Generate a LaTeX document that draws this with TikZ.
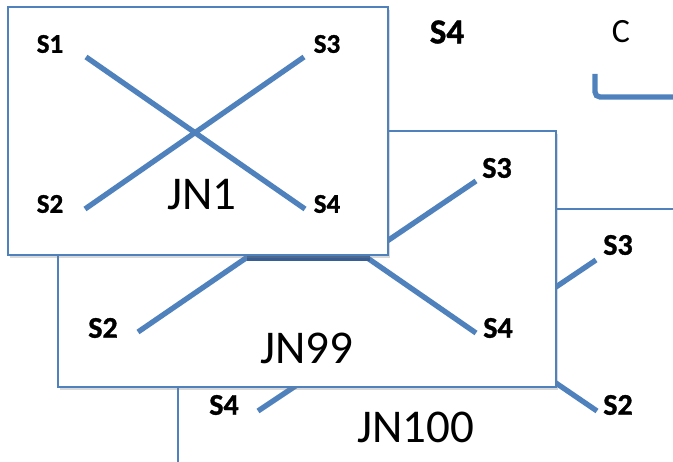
\documentclass[tikz,border=0pt]{standalone}
\usepackage{fontspec}
\setmainfont{Carlito}[BoldFont={Carlito Bold}, BoldFeatures={FakeBold=1.2}]
\usetikzlibrary{shadows}
\definecolor{officeblue}{RGB}{79,129,189}
\definecolor{bandblue}{RGB}{56,94,148}

\begin{document}
\begin{tikzpicture}[x=1pt,y=-1pt,
  panel/.style={draw=officeblue, line width=1.5pt, fill=white,
    drop shadow={shadow xshift=2pt, shadow yshift=-3pt, opacity=0.3}},
  wire/.style={officeblue, line width=5.3pt},
  portA/.style={font=\bfseries\fontsize{27}{30}\selectfont, inner sep=0pt},
  portB/.style={font=\bfseries\fontsize{30}{33}\selectfont, inner sep=0pt},
  portC/.style={font=\bfseries\fontsize{35}{38}\selectfont, inner sep=0pt},
  plain/.style={font=\fontsize{34}{37}\selectfont, inner sep=0pt},
  jname/.style={font=\fontsize{47}{50}\selectfont, inner sep=0pt}
]
\useasboundingbox (0,0) rectangle (673,462);
\clip (0,0) rectangle (673,462);

% rear layer, top right
\node[portC] (s4top) at (447,32) {S4};
\node[plain] (ctop) at (621,32) {C};
\coordinate (ca) at (595,74);
\coordinate (cb) at (595,97);
\coordinate (cc) at (680,97);
\draw[wire, rounded corners=5pt] (ca) -- (cb) -- (cc);

% JN100 (partly hidden)
\coordinate (h3a) at (550,291); \coordinate (h3b) at (596,260);
\coordinate (h2a) at (550,379); \coordinate (h2b) at (597,411);
\coordinate (h4a) at (258,411); \coordinate (h4b) at (300,383);
\path[panel] (178,209) rectangle (760,540);
\draw[wire] (h3a) -- (h3b);
\draw[wire] (h2a) -- (h2b);
\draw[wire] (h4a) -- (h4b);
\node[portB] (l100s3) at (618,245) {S3};
\node[portB] (l100s2) at (618,405) {S2};
\node[portB] (l100s4) at (224,405) {S4};
\node[jname] (jn100) at (416,427) {JN100};

% JN99
\coordinate (g2a) at (138,332); \coordinate (g2b) at (249,256);
\coordinate (g3a) at (476,181); \coordinate (g3b) at (365,256);
\coordinate (g4a) at (476,333); \coordinate (g4b) at (366,257);
\coordinate (gba) at (247,258); \coordinate (gbb) at (370,258);
\path[panel] (58,131) rectangle (556,387);
\draw[wire] (g2a) -- (g2b);
\draw[wire] (g3a) -- (g3b);
\draw[wire] (g4a) -- (g4b);
\draw[bandblue, line width=6pt] (gba) -- (gbb);
\node[portB] (l99s2) at (103,328) {S2};
\node[portB] (l99s3) at (497,168) {S3};
\node[portB] (l99s4) at (498,328) {S4};
\node[jname] (jn99) at (307,348) {JN99};

% JN1 (front)
\coordinate (f1a) at (86,57); \coordinate (f1b) at (305,209);
\coordinate (f3a) at (304,57); \coordinate (f3b) at (85,209);
\path[panel] (8,7) rectangle (388,255);
\draw[wire] (f1a) -- (f1b);
\draw[wire] (f3a) -- (f3b);
\node[portA] (l1s1) at (50,44) {S1};
\node[portA] (l1s3) at (327,44) {S3};
\node[portA] (l1s2) at (50,204) {S2};
\node[portA] (l1s4) at (327,204) {S4};
\node[jname] (jn1) at (202,195) {JN1};
\end{tikzpicture}
\end{document}
